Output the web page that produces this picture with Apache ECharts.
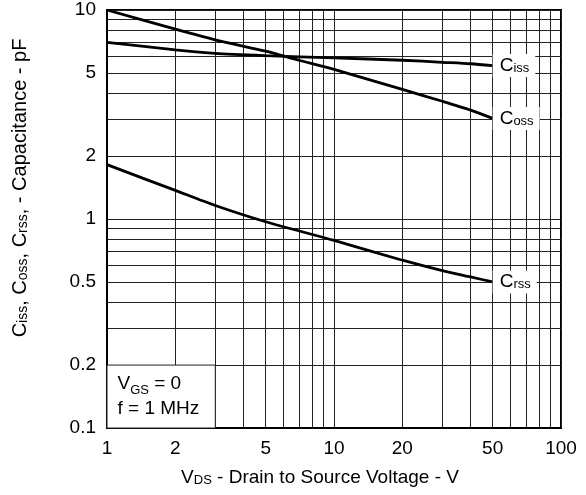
<!DOCTYPE html>
<html>
<head>
<meta charset="utf-8">
<script src="https://cdn.jsdelivr.net/npm/echarts@6/dist/echarts.min.js"></script>
<style>
  html, body { margin: 0; padding: 0; background: #fff; }
  #chart { width: 586px; height: 495px; }
</style>
</head>
<body>
<div id="chart"></div>
<script>
// capacitance vs drain-source voltage
const cissV = [1, 2, 3, 5, 10, 20, 30, 40, 50];
const cissC = [7.0, 6.45, 6.2, 6.05, 5.9, 5.75, 5.62, 5.53, 5.42];
const cossV = [1, 2, 3, 5, 7, 10, 20, 30, 40, 50];
const cossC = [10, 8.1, 7.2, 6.35, 5.75, 5.2, 4.17, 3.66, 3.32, 3.03];
const crssV = [1, 2, 3, 5, 10, 20, 30, 40, 50];
const crssC = [1.82, 1.37, 1.16, 0.97, 0.79, 0.635, 0.566, 0.528, 0.5];

const xLabels = [1, 2, 5, 10, 20, 50, 100];
const yLabels = [0.1, 0.2, 0.5, 1, 2, 5, 10];
const xGrid = [1, 2, 3, 4, 5, 6, 7, 8, 9, 10, 20, 30, 40, 50, 60, 70, 80, 90, 100];
const yGrid = [0.1, 0.2, 0.3, 0.4, 0.5, 0.6, 0.7, 0.8, 0.9, 1, 2, 3, 4, 5, 6, 7, 8, 9, 10];
// note box corner values (V, pF)
const noteBox = [[1, 0.1], [3, 0.2]];

const FONT = 'Liberation Sans';
const sub = { fontSize: 13, fontFamily: FONT, verticalAlign: 'bottom', color: '#000' };

function pairs (xs, ys) {
  return xs.map((x, i) => [x, ys[i]])
}

function curve (name, xs, ys, tag) {
  return {
    name: name,
    type: 'line',
    symbol: 'none',
    smooth: 0.25,
    data: pairs(xs, ys),
    lineStyle: { color: '#000', width: 2.8 },
    endLabel: {
      show: true,
      distance: 0,
      formatter: 'C{s|' + tag + '}',
      fontSize: 19,
      fontFamily: FONT,
      color: '#000',
      backgroundColor: '#fff',
      padding: [2, 6, 2, 7],
      rich: { s: sub }
    }
  }
}

let myChart = echarts.init(document.getElementById('chart'))
myChart.setOption({
  animation: false,
  backgroundColor: '#fff',
  grid: {
    left: 107,
    right: 25,
    top: 10,
    bottom: 67,
    show: true,
    borderColor: '#000',
    borderWidth: 2
  },
  xAxis: {
    type: 'log',
    logBase: 10,
    min: 1,
    max: 100,
    name: 'V{s|DS} - Drain to Source Voltage - V',
    nameLocation: 'middle',
    nameGap: 40,
    nameTextStyle: {
      fontSize: 19,
      fontFamily: FONT,
      color: '#000',
      padding: [0, 28, 0, 0],
      rich: { s: sub }
    },
    axisLine: { show: true, lineStyle: { color: '#000', width: 2 } },
    axisTick: { show: false, customValues: xGrid },
    axisLabel: {
      customValues: xLabels,
      margin: 11,
      fontSize: 19,
      fontFamily: FONT,
      color: '#000'
    },
    splitLine: { show: true, lineStyle: { color: '#222', width: 1 } }
  },
  yAxis: {
    type: 'log',
    logBase: 10,
    min: 0.1,
    max: 10,
    name: 'C{s|iss}, C{s|oss}, C{s|rss}, - Capacitance - pF',
    nameLocation: 'middle',
    nameGap: 77,
    nameTextStyle: {
      fontSize: 20,
      fontFamily: FONT,
      color: '#000',
      padding: [0, 0, 0, 62],
      rich: { s: Object.assign({}, sub, { fontSize: 14 }) }
    },
    axisLine: { show: true, lineStyle: { color: '#000', width: 2 } },
    axisTick: { show: false, customValues: yGrid },
    axisLabel: {
      customValues: yLabels,
      margin: 11,
      fontSize: 19,
      fontFamily: FONT,
      color: '#000'
    },
    splitLine: { show: true, lineStyle: { color: '#222', width: 1 } }
  },
  series: [
    curve('Ciss', cissV, cissC, 'iss'),
    curve('Coss', cossV, cossC, 'oss'),
    Object.assign(curve('Crss', crssV, crssC, 'rss'), {
      markArea: {
        silent: true,
        itemStyle: { color: '#fff', borderColor: '#222', borderWidth: 1 },
        label: {
          show: true,
          position: 'insideLeft',
          distance: 11,
          formatter: 'V{s|GS} = 0\nf = 1 MHz',
          fontSize: 19,
          lineHeight: 25,
          fontFamily: FONT,
          color: '#000',
          rich: { s: Object.assign({}, sub, { lineHeight: 25 }) }
        },
        data: [[
          { coord: noteBox[0] },
          { coord: noteBox[1] }
        ]]
      }
    })
  ]
})
</script>
</body>
</html>
